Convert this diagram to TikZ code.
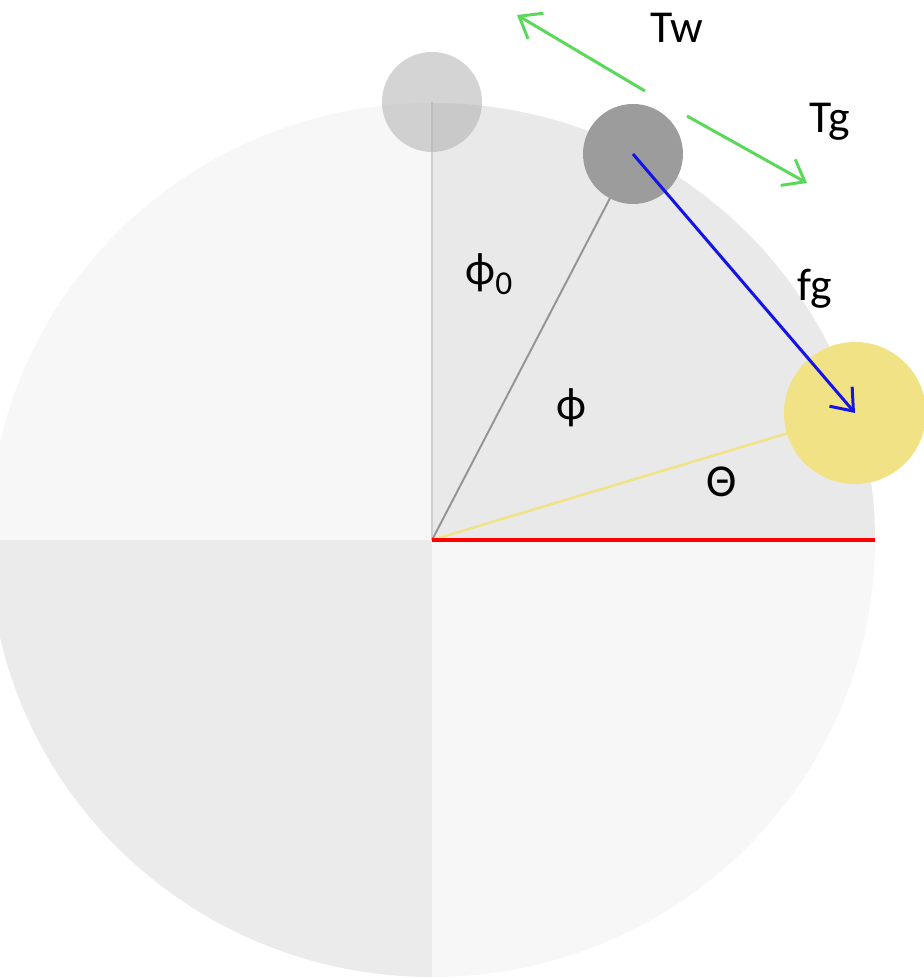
\documentclass[tikz,border=0pt]{standalone}
\usepackage{fontspec}
\setmainfont{Carlito}
\usetikzlibrary{arrows.meta}
\definecolor{wheelLight}{HTML}{F7F7F7}
\definecolor{wheelDark}{HTML}{E9E9E9}
\definecolor{wheelShade}{HTML}{EBEBEB}
\definecolor{sunYellow}{HTML}{F1E285}
\definecolor{forceGreen}{HTML}{5AD85A}
\definecolor{forceBlue}{HTML}{1414E6}
\tikzset{every picture/.style={line width=0.75pt}}

\begin{document}
\begin{tikzpicture}[x=0.2mm, y=0.2mm, font=\fontsize{26}{30}\selectfont,
    ball/.style={circle, inner sep=0pt, minimum size=20mm},
    vec/.style={-{Straight Barb[length=11pt,width=17pt]}, line width=1.7pt},
    lbl/.style={inner sep=0pt}]
    \useasboundingbox (-432,-438) rectangle (492,540);

    % Wheel quadrants
    \fill[wheelDark] (0,0) -- (443,0) arc[start angle=0, end angle=90, x radius=443, y radius=437] -- cycle;
    \fill[wheelLight] (0,0) -- (0,437) arc[start angle=90, end angle=180, x radius=443, y radius=437] -- cycle;
    \fill[wheelShade] (0,0) -- (-443,0) arc[start angle=180, end angle=270, x radius=443, y radius=437] -- cycle;
    \fill[wheelLight] (0,0) -- (0,-437) arc[start angle=270, end angle=360, x radius=443, y radius=437] -- cycle;

    % Centres
    \coordinate (O) at (0,0);
    \coordinate (p0) at (0,438);
    \coordinate (p) at (201,386);
    \coordinate (pg) at (423,127);
    \coordinate (rim) at (443,0);

    % Spokes
    \draw[line width=1.1pt, black!19] (O) -- (p0);
    \draw[line width=1.1pt, black!42] (O) -- (p);
    \draw[line width=1.4pt, sunYellow] (O) -- (pg);
    \draw[line width=2pt, red] (O) -- (rim);

    % Balls
    \node[ball, fill=black!31, fill opacity=0.55] (ball0) at (p0) {};
    \node[ball, fill=black!39] (ball) at (p) {};
    \node[ball, fill=sunYellow, minimum size=28.4mm] (sun) at (pg) {};

    % Forces
    \draw[vec, forceBlue] (ball.center) -- (sun.center);
    \coordinate (tw0) at (213,449);
    \coordinate (tw1) at (85,525);
    \coordinate (tg0) at (255,424);
    \coordinate (tg1) at (375,357);
    \draw[vec, forceGreen] (tw0) -- (tw1);
    \draw[vec, forceGreen] (tg0) -- (tg1);

    % Labels
    \node[lbl] (Tw) at (245,512) {Tw};
    \node[lbl] (Tg) at (398,418) {Tg};
    \node[lbl] (fg) at (383,251) {fg};
    \node[lbl] (phi0) at (57,266) {ϕ\raisebox{-5.5pt}{\fontsize{19}{20}\selectfont 0}};
    \node[lbl] (phi) at (139,132) {ϕ};
    \node[lbl] (theta) at (290,58) {Θ};
\end{tikzpicture}
\end{document}
